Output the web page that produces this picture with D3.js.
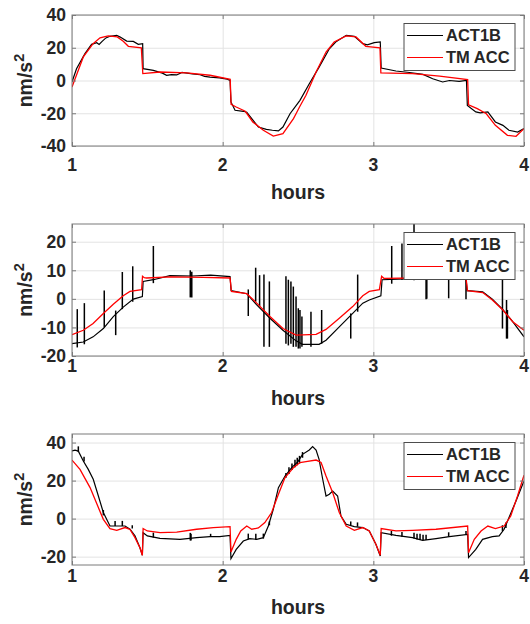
<!DOCTYPE html>
<html>
<head>
<meta charset="utf-8">
<script src="https://cdn.jsdelivr.net/npm/d3@7"></script>
<style>
  body { margin: 0; background: #fff; }
  text { font-family: "Liberation Sans", Arial, Helvetica, sans-serif; font-weight: bold; fill: #262626; }
</style>
</head>
<body>
<script>
// ---- data (hours, nm/s^2) ----
let hourTicks = [1, 2, 3, 4];
let seriesNames = ["ACT1B", "TM ACC"];

let yTicks1 = [-40, -20, 0, 20, 40];
let yTicks2 = [-20, -10, 0, 10, 20];
let yTicks3 = [-20, 0, 20, 40];

// panel 1
let act1 = [[1.0,-0.9],[1.03,7.2],[1.086,16.4],[1.13,22.1],[1.164,23.1],[1.18,22.0],[1.20,23.9],[1.225,26],[1.252,27],
  [1.297,27.6],[1.32,26.5],[1.363,24.1],[1.407,23.9],[1.44,22.1],[1.469,22.5],[1.472,7.2],[1.54,6.2],[1.60,4.5],
  [1.628,3.2],[1.66,3.6],[1.695,3.4],[1.73,4.9],[1.80,4.0],[1.85,3.5],[1.88,2.5],[1.916,2.1],[1.98,1.6],[2.03,0.8],
  [2.049,0.1],[2.055,-13.1],[2.082,-18.2],[2.137,-18.8],[2.16,-19.4],[2.193,-23.3],[2.237,-28.4],[2.29,-29.8],
  [2.33,-30.4],[2.37,-30.8],[2.40,-28.4],[2.447,-20.3],[2.513,-12.1],[2.575,-2],[2.64,8.2],[2.708,19.4],[2.75,23.5],
  [2.82,27.6],[2.874,27],[2.93,22.5],[2.96,21.8],[3.006,23.1],[3.046,23.5],[3.052,7.6],[3.15,5.8],[3.24,4.9],
  [3.33,3.7],[3.394,1.1],[3.46,-0.9],[3.505,0],[3.57,-0.5],[3.618,0.1],[3.624,-15.2],[3.68,-19.2],[3.71,-19.8],
  [3.76,-19.2],[3.81,-25.3],[3.86,-27.4],[3.90,-30.4],[3.958,-31.5],[4.0,-29.4]];
let tm1 = [[1.0,-4.0],[1.075,14.4],[1.14,22.5],[1.186,26.1],[1.24,27.2],[1.30,26.6],[1.34,24],[1.374,20.9],[1.46,20],
  [1.47,4.2],[1.584,5.2],[1.76,4.6],[1.916,3.2],[2.05,0.7],[2.056,-14.5],[2.09,-16.2],[2.15,-18.8],[2.20,-25.3],
  [2.27,-30.4],[2.336,-34],[2.40,-32.5],[2.47,-23.3],[2.487,-20.3],[2.51,-16.2],[2.553,-9],[2.62,5.2],[2.686,17.4],
  [2.74,23.5],[2.82,27.2],[2.885,26.6],[2.95,20.9],[3.044,20],[3.05,4.6],[3.26,4.2],[3.44,2.7],[3.626,0.5],
  [3.632,-14.8],[3.69,-17.2],[3.75,-20.3],[3.81,-27.4],[3.89,-33.5],[3.947,-34.1],[4.0,-29.4]];
let spikes1 = [];

// panel 2
let act2 = [[1.0,-15.7],[1.075,-15.1],[1.14,-13.3],[1.208,-10.4],[1.274,-6.2],[1.34,-2.9],[1.407,-0.1],[1.467,0.8],
  [1.472,6.1],[1.54,6.7],[1.65,8.1],[1.80,8.0],[1.92,8.3],[2.049,7.8],[2.056,2.9],[2.16,1.8],[2.226,-2.1],
  [2.314,-6.8],[2.40,-11],[2.487,-14.7],[2.53,-15.9],[2.64,-15.9],[2.686,-14.5],[2.774,-9.8],[2.863,-5.1],
  [2.93,-1.5],[2.973,-0.4],[3.05,1.1],[3.058,6.7],[3.22,7.0],[3.40,7.5],[3.615,7.5],[3.622,2.9],[3.726,2.5],
  [3.79,-0.1],[3.86,-3.8],[3.925,-8],[4.0,-13.3]];
let tm2 = [[1.0,-12.5],[1.075,-11],[1.14,-8.6],[1.208,-5.1],[1.274,-1.9],[1.34,1.1],[1.385,2.6],[1.462,3.2],
  [1.468,7.9],[1.48,7.4],[1.495,7.3],[1.65,7.7],[1.87,7.5],[2.049,7.3],[2.058,2.6],[2.087,2.4],[2.16,1.8],
  [2.226,-1.5],[2.314,-6.2],[2.40,-10.4],[2.487,-12.7],[2.62,-12.4],[2.686,-10.7],[2.774,-6.8],[2.863,-2.7],
  [2.93,1.1],[2.973,2.6],[3.04,3.2],[3.055,7.9],[3.07,7.2],[3.28,7.3],[3.45,7.5],[3.615,7.4],[3.625,2.9],
  [3.726,2.2],[3.79,-0.4],[3.86,-3.9],[3.925,-8],[4.0,-11]];
// [hour, low, high]
let spikes2 = [[1.035,-17,-3.6],[1.082,-15.9,-1.5],[1.214,-10,2.9],[1.29,-12.7,-4.1],[1.334,-3.6,9.4],
  [1.403,-1,11.4],[1.54,5.5,18.5],[1.785,0.5,10],[1.79,1,9],[1.795,0.5,9.5],[2.17,-6,3.3],[2.219,-1,10.9],
  [2.245,-2.6,8.3],[2.274,-16.8,8.5],[2.31,-16.8,6.1],[2.42,-15.7,7.9],[2.436,-16.3,6.7],[2.453,-15.7,6.1],
  [2.469,-16.8,4.3],[2.487,-16.8,0.8],[2.502,-17.4,-3.3],[2.513,-17.4,-3.9],[2.526,-16.8,-6.2],[2.586,-16.8,-4.5],
  [2.657,-15.7,-3.9],[2.85,-13.9,-5.1],[2.896,-4.5,8.5],[3.122,5.3,18.5],[3.19,6.7,19.4],[3.27,6.5,32],
  [3.35,-0.1,7.4],[3.355,0,7.4],[3.5,0.2,7.4],[3.615,-0.1,7.4],[3.857,-10.4,12],[3.884,-13.9,-0.4],[3.89,-13.9,-3.9]];

// panel 3
let act3 = [[1.0,35.6],[1.02,36],[1.042,35.5],[1.075,30.3],[1.108,25.9],[1.141,20.7],[1.175,11.9],[1.208,3.2],
  [1.252,-3.9],[1.297,-3.9],[1.352,-3.9],[1.385,-5.6],[1.418,-9.1],[1.451,-15.3],[1.467,-19.3],[1.472,-7.4],
  [1.5,-9.1],[1.584,-10.4],[1.717,-10.9],[1.827,-10],[1.916,-9.5],[1.98,-9.5],[2.049,-8.8],[2.055,-21.1],
  [2.09,-16.2],[2.137,-11.8],[2.18,-10.5],[2.226,-10.9],[2.27,-10],[2.303,-3.9],[2.336,4.9],[2.37,16.3],
  [2.414,22.4],[2.458,26.8],[2.5,30],[2.53,33.8],[2.575,36.1],[2.597,37.9],[2.62,36.1],[2.64,31.2],[2.664,20.7],
  [2.686,11.9],[2.708,12.8],[2.73,14.5],[2.763,11.9],[2.785,1.4],[2.82,-3],[2.874,-4.2],[2.93,-4.7],[2.973,-6.5],
  [3.017,-13.5],[3.046,-19.7],[3.052,-7.4],[3.15,-8.8],[3.26,-10],[3.327,-11.4],[3.416,-10.5],[3.504,-9.5],
  [3.626,-8.3],[3.632,-20.5],[3.68,-16.2],[3.725,-10.9],[3.79,-9.5],[3.835,-9.1],[3.868,-5.6],[3.90,0.5],
  [3.947,9.3],[4.0,19.8]];
let tm3 = [[1.0,30.8],[1.053,25.9],[1.12,16.3],[1.175,5.8],[1.208,-0.4],[1.252,-5.3],[1.297,-6.2],[1.352,-4.7],
  [1.385,-5.7],[1.418,-10],[1.451,-15.3],[1.467,-19.3],[1.472,-5.2],[1.5,-6.5],[1.584,-7.4],[1.695,-7.1],
  [1.827,-5.6],[1.938,-4.7],[2.049,-4.2],[2.055,-17.6],[2.09,-10.9],[2.12,-6.5],[2.16,-3.9],[2.193,-5.6],
  [2.237,-4.9],[2.28,-2.1],[2.325,3.2],[2.37,12.8],[2.414,21.6],[2.47,26.8],[2.513,29.5],[2.553,30],[2.62,30.8],
  [2.653,29.5],[2.686,22.4],[2.73,13.7],[2.774,3.2],[2.82,-3.9],[2.874,-6.2],[2.93,-4.7],[2.973,-6.5],
  [3.017,-13.5],[3.046,-19.3],[3.052,-5.2],[3.15,-6.5],[3.26,-6.2],[3.416,-5.6],[3.626,-3.9],[3.632,-17.9],
  [3.67,-10.9],[3.715,-6.5],[3.76,-3.9],[3.81,-5.3],[3.868,-3.9],[3.912,1.4],[3.957,11.9],[4.0,22.8]];
let spikes3 = [[1.042,35,38],[1.08,30,32.5],[1.208,1.7,4.5],[1.286,-3.9,-1.2],[1.334,-3.9,-1.2],[1.40,-5.2,-3.5],
  [1.54,-10,-7.4],[1.785,-11.5,-7.5],[1.79,-11.5,-8],[1.92,-9.5,-8],[2.17,-10.9,-7.9],[2.22,-11,-7.9],
  [2.27,-10.5,-7.9],[2.31,-3.5,-1.5],[2.42,21.5,24],[2.44,23.5,27],[2.46,25.5,29],[2.48,27,31],[2.495,28,32],
  [2.51,29,33],[2.53,32,35],[2.85,-3.5,-1.5],[2.895,-4.2,-2],[3.12,-9,-6.5],[3.19,-9.5,-7],[3.27,-10.5,-7.5],
  [3.29,-11,-8],[3.31,-11.2,-8],[3.33,-11.4,-8.5],[3.35,-11.2,-8.5],[3.5,-9.5,-7.2],[3.615,-8.5,-6.5],
  [3.857,-6.5,-3.5],[3.88,-5,-2]];

// ---- layout ----
let w = 530, h = 624;
let left = 72, right = 524;

let panels = [
  {top: 15,  bottom: 146, yDomain: [-40, 40],    yTicks: yTicks1, act: act1, tm: tm1, spikes: spikes1, tickBase: 171,   labelBase: 199},
  {top: 224, bottom: 356, yDomain: [-20, 26.2],  yTicks: yTicks2, act: act2, tm: tm2, spikes: spikes2, tickBase: 371.5, labelBase: 405},
  {top: 434, bottom: 565, yDomain: [-24.4, 44.5],yTicks: yTicks3, act: act3, tm: tm3, spikes: spikes3, tickBase: 581.5, labelBase: 614}
];

let viz = d3.select("body").append("svg")
    .attr("width", w)
    .attr("height", h)
;

panels.forEach(function(p, i){
  let xScale = d3.scaleLinear().domain([1, 4]).range([left, right]);
  let yScale = d3.scaleLinear().domain(p.yDomain).range([p.bottom, p.top]);
  let ph = p.bottom - p.top;
  let pw = right - left;

  let g = viz.append("g").attr("class", "panel" + i);

  g.append("clipPath").attr("id", "clip" + i)
    .append("rect").attr("x", left).attr("y", p.top).attr("width", pw).attr("height", ph);

  // grid
  g.append("g")
      .attr("transform", "translate(0," + p.bottom + ")")
      .call(d3.axisBottom(xScale).tickValues(hourTicks).tickSize(-ph).tickFormat(""))
      .call(s => { s.select(".domain").remove(); s.selectAll("line").attr("stroke", "#e3e3e3"); });
  g.append("g")
      .attr("transform", "translate(" + left + ",0)")
      .call(d3.axisLeft(yScale).tickValues(p.yTicks).tickSize(-pw).tickFormat(""))
      .call(s => { s.select(".domain").remove(); s.selectAll("line").attr("stroke", "#e3e3e3"); });

  // data
  let line = d3.line().x(d => xScale(d[0])).y(d => yScale(d[1]));
  let plot = g.append("g").attr("clip-path", "url(#clip" + i + ")");
  plot.append("path").datum(p.act)
    .attr("d", line).attr("fill", "none").attr("stroke", "#000").attr("stroke-width", 1.2);
  plot.selectAll(".spike").data(p.spikes).enter().append("line")
    .attr("class", "spike")
    .attr("x1", d => xScale(d[0])).attr("x2", d => xScale(d[0]))
    .attr("y1", d => yScale(d[1])).attr("y2", d => yScale(d[2]))
    .attr("stroke", "#000").attr("stroke-width", 1.5);
  plot.append("path").datum(p.tm)
    .attr("d", line).attr("fill", "none").attr("stroke", "#ff0000").attr("stroke-width", 1.3);

  // box + inward ticks
  g.append("rect").attr("x", left).attr("y", p.top).attr("width", pw).attr("height", ph)
    .attr("fill", "none").attr("stroke", "#7a7a7a").attr("stroke-width", 1);
  let tickStyle = s => { s.select(".domain").remove(); s.selectAll("line").attr("stroke", "#7a7a7a"); };
  g.append("g").attr("transform", "translate(0," + p.bottom + ")")
    .call(d3.axisBottom(xScale).tickValues(hourTicks).tickSize(-4).tickFormat("")).call(tickStyle);
  g.append("g").attr("transform", "translate(0," + p.top + ")")
    .call(d3.axisTop(xScale).tickValues(hourTicks).tickSize(-4).tickFormat("")).call(tickStyle);
  g.append("g").attr("transform", "translate(" + left + ",0)")
    .call(d3.axisLeft(yScale).tickValues(p.yTicks).tickSize(-4).tickFormat("")).call(tickStyle);
  g.append("g").attr("transform", "translate(" + right + ",0)")
    .call(d3.axisRight(yScale).tickValues(p.yTicks).tickSize(-4).tickFormat("")).call(tickStyle);

  // tick labels
  g.selectAll(".xlab").data(hourTicks).enter().append("text")
    .attr("x", d => xScale(d)).attr("y", p.tickBase)
    .attr("text-anchor", "middle").style("font-size", "17.5px")
    .text(d => d);
  g.selectAll(".ylab").data(p.yTicks).enter().append("text")
    .attr("x", left - 6).attr("y", d => yScale(d)).attr("dy", "0.36em")
    .attr("text-anchor", "end").style("font-size", "17.5px")
    .text(d => d);

  // axis titles
  g.append("text").attr("x", (left + right) / 2).attr("y", p.labelBase)
    .attr("text-anchor", "middle").style("font-size", "19.5px").text("hours");
  let yl = g.append("text")
    .attr("transform", "translate(32," + (p.top + ph / 2) + ") rotate(-90)")
    .attr("text-anchor", "middle").style("font-size", "19.5px");
  yl.append("tspan").text("nm/s");
  yl.append("tspan").attr("dy", "-0.55em").style("font-size", "14.5px").text("2");

  // legend
  let lx = 404, ly = p.top + 8.5;
  let lg = g.append("g").attr("class", "legend");
  lg.append("rect").attr("x", lx).attr("y", ly).attr("width", 111).attr("height", 47)
    .attr("fill", "#fff").attr("stroke", "#4d4d4d").attr("stroke-width", 1);
  let colors = ["#000", "#ff0000"];
  seriesNames.forEach(function(name, k){
    let yy = ly + 12 + k * 22;
    lg.append("line").attr("x1", lx + 3).attr("x2", lx + 39).attr("y1", yy).attr("y2", yy)
      .attr("stroke", colors[k]).attr("stroke-width", 1.2);
    lg.append("text").attr("x", lx + 42).attr("y", yy).attr("dy", "0.36em")
      .style("font-size", "16.5px").text(name);
  });
});
</script>
</body>
</html>
